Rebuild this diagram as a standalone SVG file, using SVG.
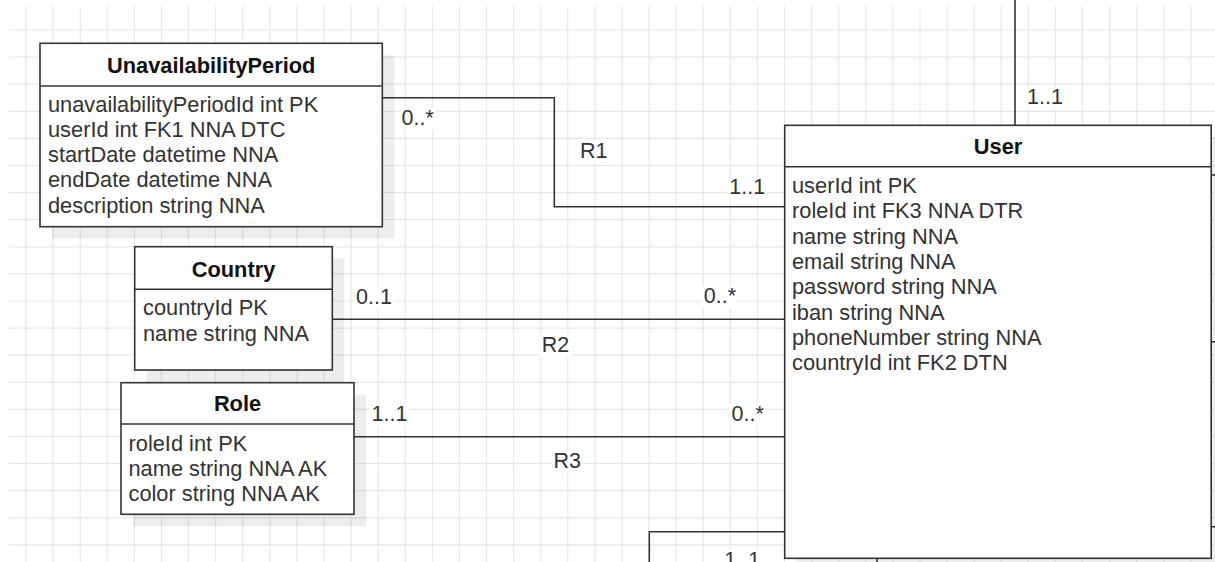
<svg xmlns="http://www.w3.org/2000/svg" width="1215" height="562" viewBox="0 0 1215 562">
<style>
.grid{fill:none;stroke:#e8e8e8;stroke-width:1.2}
.box{fill:#ffffff;stroke:#333333;stroke-width:1.6}
.shadow{fill:#000000;fill-opacity:0.07}
.hdr{stroke:#333333;stroke-width:1.6}
.title{font-family:"Liberation Sans",Arial,Helvetica,sans-serif;font-size:21.8px;font-weight:bold;fill:#111111;text-anchor:middle}
.attr{font-family:"Liberation Sans",Arial,Helvetica,sans-serif;font-size:21.8px;fill:#333333}
.conn{fill:none;stroke:#333333;stroke-width:1.6}
.lbl{font-family:"Liberation Sans",Arial,Helvetica,sans-serif;font-size:21.5px;fill:#333333}
.lblbg{fill:#ffffff}
</style>
<rect x="0" y="0" width="1215" height="562" fill="#ffffff"/>
<path class="grid" d="M26 6V562M53.1 6V562M80.2 6V562M107.3 6V562M134.4 6V562M161.5 6V562M188.5 6V562M215.6 6V562M242.7 6V562M269.8 6V562M296.9 6V562M324 6V562M351.1 6V562M378.2 6V562M405.3 6V562M432.4 6V562M459.4 6V562M486.5 6V562M513.6 6V562M540.7 6V562M567.8 6V562M594.9 6V562M622 6V562M649.1 6V562M676.2 6V562M703.3 6V562M730.3 6V562M757.4 6V562M784.5 6V562M811.6 6V562M838.7 6V562M865.8 6V562M892.9 6V562M920 6V562M947.1 6V562M974.2 6V562M1001.2 6V562M1028.3 6V562M1055.4 6V562M1082.5 6V562M1109.6 6V562M1136.7 6V562M1163.8 6V562M1190.9 6V562M9 30H1215M9 57.1H1215M9 84.2H1215M9 111.3H1215M9 138.4H1215M9 165.5H1215M9 192.6H1215M9 219.7H1215M9 246.8H1215M9 273.9H1215M9 301H1215M9 328.1H1215M9 355.2H1215M9 382.3H1215M9 409.4H1215M9 436.5H1215M9 463.6H1215M9 490.7H1215M9 517.8H1215M9 544.9H1215"/>

<g id="connectors">
<path class="conn" d="M382.3 97.7H554.3V206.7H784.7"/>
<path class="conn" d="M332.3 319.3H784.7"/>
<path class="conn" d="M354 436.7H784.7"/>
<path class="conn" d="M1015 0V125.3"/>
<path class="conn" d="M784.7 531.7H649.3V562"/>
<path class="conn" d="M877 558.3V562"/>
<path class="conn" d="M1211.2 175H1215M1211.2 341.7H1215M1211.2 526.7H1215"/>
</g>

<g id="UnavailabilityPeriod">
<rect class="shadow" x="52" y="55.3" width="342.3" height="183.4"/>
<rect class="box" x="40" y="43.3" width="342.3" height="183.4"/>
<line class="hdr" x1="40" y1="86" x2="382.3" y2="86"/>
<text class="title" x="211.2" y="72.7">UnavailabilityPeriod</text>
<text class="attr" x="48" y="111.7">unavailabilityPeriodId int PK</text>
<text class="attr" x="48" y="136.9">userId int FK1 NNA DTC</text>
<text class="attr" x="48" y="162.1">startDate datetime NNA</text>
<text class="attr" x="48" y="187.3">endDate datetime NNA</text>
<text class="attr" x="48" y="212.5">description string NNA</text>
</g>

<g id="Country">
<rect class="shadow" x="146.7" y="258.7" width="197.6" height="123.3"/>
<rect class="box" x="134.7" y="246.7" width="197.6" height="123.3"/>
<line class="hdr" x1="134.7" y1="289.3" x2="332.3" y2="289.3"/>
<text class="title" x="233.5" y="277">Country</text>
<text class="attr" x="143" y="315">countryId PK</text>
<text class="attr" x="143" y="340.5">name string NNA</text>
</g>

<g id="Role">
<rect class="shadow" x="133" y="394.7" width="233" height="131.6"/>
<rect class="box" x="121" y="382.7" width="233" height="131.6"/>
<line class="hdr" x1="121" y1="424" x2="354" y2="424"/>
<text class="title" x="237.5" y="411">Role</text>
<text class="attr" x="128.5" y="450.7">roleId int PK</text>
<text class="attr" x="128.5" y="476">name string NNA AK</text>
<text class="attr" x="128.5" y="500.7">color string NNA AK</text>
</g>

<g id="User">
<rect class="shadow" x="796.7" y="137.3" width="426.5" height="433"/>
<rect class="box" x="784.7" y="125.3" width="426.5" height="433"/>
<line class="hdr" x1="784.7" y1="166.7" x2="1211.2" y2="166.7"/>
<text class="title" x="998" y="154">User</text>
<text class="attr" x="792" y="193">userId int PK</text>
<text class="attr" x="792" y="218.3">roleId int FK3 NNA DTR</text>
<text class="attr" x="792" y="243.6">name string NNA</text>
<text class="attr" x="792" y="268.9">email string NNA</text>
<text class="attr" x="792" y="294.2">password string NNA</text>
<text class="attr" x="792" y="319.5">iban string NNA</text>
<text class="attr" x="792" y="344.8">phoneNumber string NNA</text>
<text class="attr" x="792" y="370.1">countryId int FK2 DTN</text>
</g>

<g id="labels">
<rect class="lblbg" x="1025" y="87" width="40" height="22"/>
<text class="lbl" x="1027" y="104">1..1</text>
<rect class="lblbg" x="399.5" y="108.3" width="36" height="22"/>
<text class="lbl" x="401.5" y="125.3">0..*</text>
<rect class="lblbg" x="578" y="140.7" width="32" height="22"/>
<text class="lbl" x="580" y="157.7">R1</text>
<rect class="lblbg" x="727.3" y="177" width="40" height="22"/>
<text class="lbl" x="729.3" y="194">1..1</text>
<rect class="lblbg" x="354" y="287" width="40" height="22"/>
<text class="lbl" x="356" y="304">0..1</text>
<rect class="lblbg" x="701.8" y="285.7" width="36" height="22"/>
<text class="lbl" x="703.8" y="302.7">0..*</text>
<rect class="lblbg" x="539.7" y="335.3" width="32" height="22"/>
<text class="lbl" x="541.7" y="352.3">R2</text>
<rect class="lblbg" x="369.6" y="403.7" width="40" height="22"/>
<text class="lbl" x="371.6" y="420.7">1..1</text>
<rect class="lblbg" x="729.5" y="403.7" width="36" height="22"/>
<text class="lbl" x="731.5" y="420.7">0..*</text>
<rect class="lblbg" x="551.4" y="451.3" width="32" height="22"/>
<text class="lbl" x="553.4" y="468.3">R3</text>
<rect class="lblbg" x="722.3" y="550" width="40" height="12"/>
<text class="lbl" x="724.3" y="567">1..1</text>
</g>
</svg>
